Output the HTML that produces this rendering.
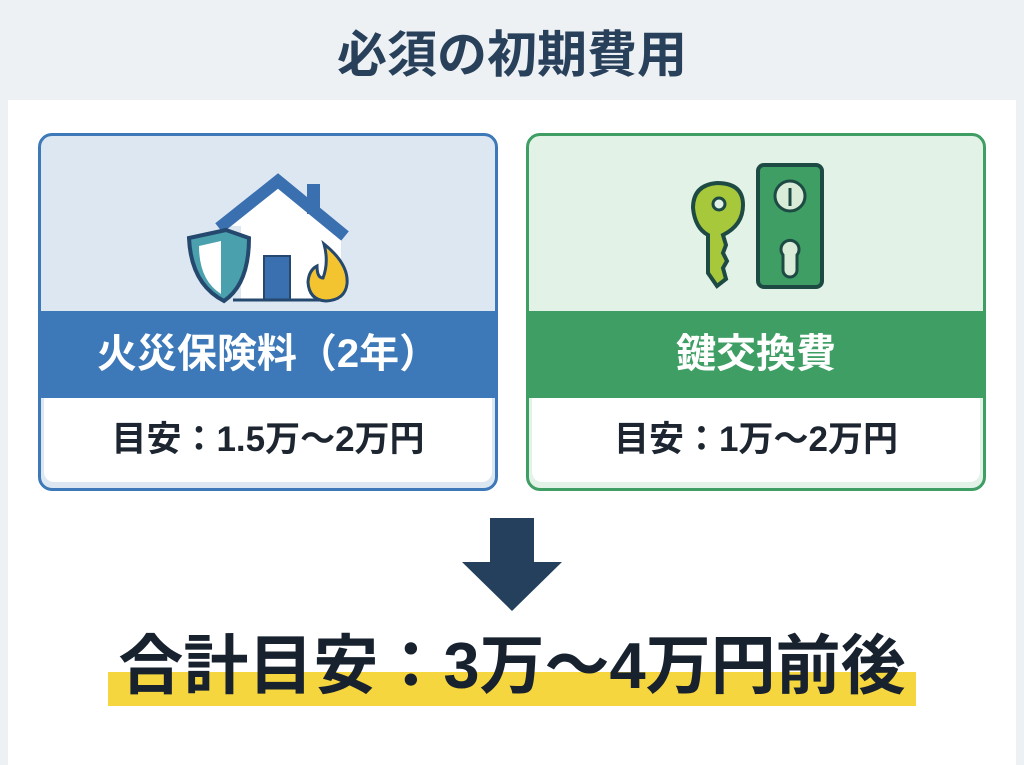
<!DOCTYPE html>
<html><head><meta charset="utf-8"><style>
body{margin:0;width:1024px;height:765px;background:#edf1f4;position:relative;overflow:hidden;font-family:"Liberation Sans","Noto Sans CJK JP",sans-serif;}
.abs{position:absolute}
.title{left:0;width:1024px;top:24px;text-align:center;font-size:50px;font-weight:700;color:#28405a;line-height:62px}
.panel{left:8px;top:100px;width:1008px;height:665px;background:#fff;}
.card{top:133px;width:454px;height:352px;border-radius:14px;overflow:hidden;border:3px solid}
.band{left:0;top:175px;width:454px;height:87px;color:#fff;font-size:40px;font-weight:700;text-align:center;line-height:87px}
.inner{left:3px;top:262px;width:448px;height:84px;background:#fff;border-radius:0 0 10px 10px;text-align:center;line-height:84px;font-size:35px;font-weight:700;color:#1d2630}
</style></head><body>
<div class="abs title">必須の初期費用</div>
<div class="abs panel"></div>

<div class="abs card" style="left:38px;border-color:#3d79b8;background:#dce7f1">
 <svg class="abs" style="left:130px;top:20px" width="200" height="160" viewBox="160 140 200 160">
  <polygon points="212,210 267,166 330,218 330,283 230,283 230,210" fill="#fff"/>
  <polyline points="208,212 267,165 334,220" fill="none" stroke="#3a6fb0" stroke-width="12" stroke-linejoin="miter"/>
  <rect x="296" y="168" width="13" height="30" fill="#3a6fb0"/>
  <rect x="253" y="240" width="26" height="44" fill="#3a6fb0" stroke="#24486e" stroke-width="2"/>
  <line x1="222" y1="284" x2="310" y2="284" stroke="#24486e" stroke-width="3"/>
  <path d="M215,214 L238,222 Q238,268 213,285 Q180,268 178,222 Z" fill="#4aa0ad" stroke="#24486e" stroke-width="4"/>
  <path d="M210,225 L210,278 Q188,264 188,230 Z" fill="#fff"/>
  <path d="M313,228 Q338,248 336,268 Q334,284 315,285 Q298,284 297,266 Q298,254 306,250 Q306,262 312,262 Q318,246 313,228Z" fill="#f4c430" stroke="#24486e" stroke-width="3"/>
 </svg>
 <div class="abs band" style="background:#3d79b8">火災保険料（2年）</div>
 <div class="abs inner">目安：1.5万〜2万円</div>
</div>

<div class="abs card" style="left:526px;border-color:#3e9e63;background:#e2f2e7">
 <svg class="abs" style="left:154px;top:17px" width="160" height="150" viewBox="680 150 160 150">
  <rect x="755" y="162" width="64" height="122" rx="6" fill="#3e9e63" stroke="#1e4a44" stroke-width="4"/>
  <circle cx="787" cy="193" r="15" fill="#d8ecd8" stroke="#1e4a44" stroke-width="3"/>
  <line x1="787" y1="185" x2="787" y2="203" stroke="#1e4a44" stroke-width="3"/>
  <path d="M780,252 a9,9 0 1 1 14,0 l0,15 a2,2 0 0 1 -14,0z" fill="#d8ecd8" stroke="#1e4a44" stroke-width="3"/>
  <path d="M705,232 L705,270 L714,283 L723,276 L720,265 L724,258 L720,250 L723,242 L720,232 Q740,222 740,202 Q740,180 714,180 Q690,182 690,205 Q692,225 705,232Z" fill="#a8c83c" stroke="#1e4a44" stroke-width="4"/>
  <circle cx="716" cy="201" r="6" fill="#e2f2e7" stroke="#1e4a44" stroke-width="3"/>
 </svg>
 <div class="abs band" style="background:#3e9e63">鍵交換費</div>
 <div class="abs inner">目安：1万〜2万円</div>
</div>

<svg class="abs" style="left:0;top:0" width="1024" height="765">
 <polygon points="490,518 534,518 534,562 562,562 512,611 462,562 490,562" fill="#24405c"/>
 <rect x="108" y="672" width="808" height="34" fill="#f6d63e"/>
</svg>
<div class="abs" style="left:0;width:1024px;top:626px;text-align:center;font-size:65px;font-weight:700;color:#17222e;line-height:80px">合計目安：3万〜4万円前後</div>
</body></html>
